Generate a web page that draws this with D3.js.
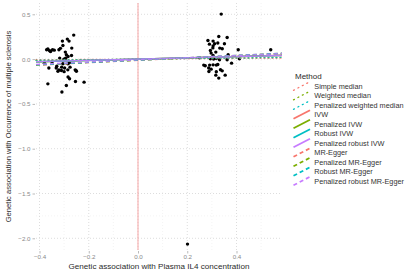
<!DOCTYPE html>
<html>
<head>
<meta charset="utf-8">
<script src="https://cdnjs.cloudflare.com/ajax/libs/d3/7.8.5/d3.min.js"></script>
<style>
  body { margin: 0; background: #fff; }
  svg text { font-family: "Liberation Sans", Arial, sans-serif; }
</style>
</head>
<body>
<div id="chart"></div>
<script>
// SNP effects: [exposure beta, outcome beta]
const snps = [
  [-0.261, 0.268], [-0.287, 0.223], [-0.280, 0.201], [-0.307, 0.201], [-0.305, 0.152],
  [-0.269, 0.123], [-0.366, 0.112], [-0.371, 0.104], [-0.359, 0.093], [-0.347, 0.104],
  [-0.355, 0.085], [-0.321, 0.104], [-0.295, 0.078], [-0.291, 0.048], [-0.284, 0.029],
  [-0.318, 0.011], [-0.301, 0.000], [-0.294, 0.010], [-0.380, -0.045], [-0.349, -0.033],
  [-0.305, -0.052], [-0.285, -0.052], [-0.279, -0.040], [-0.362, -0.100], [-0.332, -0.100],
  [-0.321, -0.120], [-0.325, -0.135], [-0.311, -0.128], [-0.298, -0.100], [-0.285, -0.120],
  [-0.276, -0.090], [-0.255, -0.120], [-0.250, -0.135], [-0.252, -0.128], [-0.284, -0.200],
  [-0.278, -0.220], [-0.254, -0.250], [-0.219, -0.257], [-0.366, -0.276], [-0.291, -0.295],
  [-0.309, -0.368], [-0.340, 0.100], [-0.315, 0.120], [-0.330, -0.080], [-0.300, -0.140],
  [-0.270, 0.040], [-0.310, -0.090],
  [0.338, 0.502], [0.328, 0.252], [0.362, 0.241], [0.284, 0.208], [0.305, 0.201],
  [0.290, 0.167], [0.311, 0.171], [0.324, 0.179], [0.351, 0.171], [0.305, 0.148],
  [0.332, 0.123], [0.342, 0.115], [0.407, 0.104], [0.539, 0.104], [0.294, 0.096],
  [0.297, 0.067], [0.316, 0.078], [0.366, 0.048], [0.305, 0.040], [0.250, 0.015],
  [0.294, 0.003], [0.307, 0.000], [0.318, 0.007], [0.331, -0.008], [0.362, -0.008],
  [0.412, 0.003], [0.380, -0.045], [0.267, -0.067], [0.273, -0.075], [0.291, -0.067],
  [0.305, -0.064], [0.318, -0.067], [0.324, -0.060], [0.287, -0.100], [0.297, -0.112],
  [0.335, -0.119], [0.342, -0.131], [0.288, -0.138], [0.318, -0.142], [0.354, -0.179],
  [0.316, -0.179], [0.328, -0.212], [0.304, 0.125],
  [0.201, -2.065]
];

const methods = [
  "Simple median", "Weighted median", "Penalized weighted median",
  "IVW", "Penalized IVW", "Robust IVW", "Penalized robust IVW",
  "MR-Egger", "Penalized MR-Egger", "Robust MR-Egger", "Penalized robust MR-Egger"
];
const slopes =     [0.015, 0.035, 0.03, 0.075, 0.07, 0.072, 0.068, 0.135, 0.125, 0.13, 0.12];
const intercepts = [0, 0, 0, 0, 0, 0, 0, -0.013, -0.012, -0.011, -0.009];
const lineColors = ["#F8766D", "#7CAE00", "#00BFC4", "#F8766D", "#7CAE00", "#00BFC4", "#C77CFF",
  "#F8766D", "#7CAE00", "#00BFC4", "#C77CFF"];
const lineDash = ["1,3", "1,3", "1,3", null, null, null, null, "4,3", "4,3", "4,3", "4,3"];

const xTicks = [-0.4, -0.2, 0.0, 0.2, 0.4];
const yTicks = [0.5, 0.0, -0.5, -1.0, -1.5, -2.0];

const width = 415, height = 273;
const panel = { left: 36, right: 282, top: 3, bottom: 250 };

const svg = d3.select('#chart').append('svg')
  .attr('width', width)
  .attr('height', height);

const x = d3.scaleLinear().domain([-0.4, 0.4]).range([39.5, 236.5]);
const y = d3.scaleLinear().domain([0.5, -2.0]).range([14.3, 238.3]);
const xMin = x.invert(panel.left), xMax = x.invert(panel.right);

const fmt = v => d3.format('.1f')(v).replace('-', '\u2212');
const isDotted = i => lineDash[i] === "1,3";

// grid
const grid = svg.append('g');
const xMinor = [-0.3, -0.1, 0.1, 0.3, 0.5];
const yMinor = [0.25, -0.25, -0.75, -1.25, -1.75];
grid.selectAll('.xminor').data(xMinor).enter().append('line')
  .attr('x1', d => x(d)).attr('x2', d => x(d))
  .attr('y1', panel.top).attr('y2', panel.bottom)
  .attr('stroke', '#ececec').attr('stroke-width', 0.6).attr('stroke-dasharray', '1,2');
grid.selectAll('.yminor').data(yMinor).enter().append('line')
  .attr('x1', panel.left).attr('x2', panel.right)
  .attr('y1', d => y(d)).attr('y2', d => y(d))
  .attr('stroke', '#ececec').attr('stroke-width', 0.6).attr('stroke-dasharray', '1,2');
grid.selectAll('.xmajor').data(xTicks).enter().append('line')
  .attr('x1', d => x(d)).attr('x2', d => x(d))
  .attr('y1', panel.top).attr('y2', panel.bottom)
  .attr('stroke', '#d4d4d4').attr('stroke-width', 0.8).attr('stroke-dasharray', '1,2');
grid.selectAll('.ymajor').data(yTicks).enter().append('line')
  .attr('x1', panel.left).attr('x2', panel.right)
  .attr('y1', d => y(d)).attr('y2', d => y(d))
  .attr('stroke', '#d4d4d4').attr('stroke-width', 0.8).attr('stroke-dasharray', '1,2');

// reference line at x = 0
svg.append('line')
  .attr('x1', x(0)).attr('x2', x(0))
  .attr('y1', panel.top).attr('y2', panel.bottom)
  .attr('stroke', '#F6A5A5').attr('stroke-width', 1);

// points
svg.append('g').selectAll('circle')
  .data(snps)
  .enter().append('circle')
  .attr('cx', d => x(d[0]))
  .attr('cy', d => y(d[1]))
  .attr('r', 1.7)
  .attr('fill', '#000');

// method lines
svg.append('g').selectAll('line')
  .data(methods)
  .enter().append('line')
  .attr('x1', x(xMin))
  .attr('x2', x(xMax))
  .attr('y1', (d, i) => y(intercepts[i] + slopes[i] * xMin))
  .attr('y2', (d, i) => y(intercepts[i] + slopes[i] * xMax))
  .attr('stroke', (d, i) => lineColors[i])
  .attr('stroke-width', (d, i) => isDotted(i) ? 1.1 : 1.4)
  .attr('stroke-dasharray', (d, i) => lineDash[i])
  .attr('stroke-linecap', (d, i) => isDotted(i) ? 'round' : 'butt')
  .attr('opacity', 0.9);

// axes
const xAxis = svg.append('g').attr('transform', `translate(0,${panel.bottom + 1})`)
  .call(d3.axisBottom(x).tickValues(xTicks).tickFormat(fmt).tickSize(2.5).tickPadding(1));
const yAxis = svg.append('g').attr('transform', `translate(${panel.left - 1},0)`)
  .call(d3.axisLeft(y).tickValues(yTicks).tickFormat(fmt).tickSize(2.5).tickPadding(2));
[xAxis, yAxis].forEach(a => {
  a.select('.domain').remove();
  a.selectAll('line').attr('stroke', '#bbb');
  a.selectAll('text').attr('fill', '#8a8a8a').style('font-size', '6.2px');
});

svg.append('text')
  .attr('x', (panel.left + panel.right) / 2)
  .attr('y', 269)
  .attr('text-anchor', 'middle')
  .attr('fill', '#2b2b2b')
  .style('font-size', '8.1px')
  .text('Genetic association with Plasma IL4 concentration');

svg.append('text')
  .attr('transform', `translate(10.5,${(panel.top + panel.bottom) / 2}) rotate(-90)`)
  .attr('text-anchor', 'middle')
  .attr('fill', '#2b2b2b')
  .style('font-size', '7.6px')
  .text('Genetic association with Occurrence of multiple sclerosis');

// legend
const legend = svg.append('g').attr('transform', 'translate(293,0)');
legend.append('text')
  .attr('x', 2).attr('y', 79)
  .attr('fill', '#2b2b2b')
  .style('font-size', '8px')
  .text('Method');
const rowY = i => 86 + i * 9.5;
const rows = legend.selectAll('.row').data(methods).enter().append('g')
  .attr('transform', (d, i) => `translate(0,${rowY(i)})`);
rows.append('line')
  .attr('x1', 0.5).attr('y1', 4.3)
  .attr('x2', 17).attr('y2', -4.3)
  .attr('stroke', (d, i) => lineColors[i])
  .attr('stroke-width', (d, i) => isDotted(i) ? 1.3 : 1.8)
  .attr('stroke-dasharray', (d, i) => isDotted(i) ? "1,4" : lineDash[i])
  .attr('stroke-linecap', (d, i) => isDotted(i) ? 'round' : 'butt');
rows.append('text')
  .attr('x', 21.3).attr('y', 2.6)
  .attr('fill', '#333')
  .style('font-size', '7.3px')
  .text(d => d);
</script>
</body>
</html>
